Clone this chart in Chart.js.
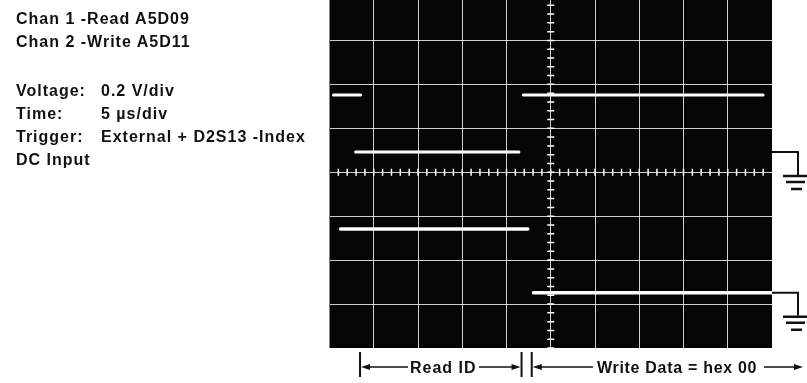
<!DOCTYPE html>
<html>
<head>
<meta charset="utf-8">
<script src="https://cdn.jsdelivr.net/npm/chart.js@4"></script>
<style>
body { margin:0; background:#fff; }
#wrap { position:relative; width:807px; height:383px; overflow:hidden; }
#scope { position:absolute; left:0; top:0; }
.t { position:absolute; font-family:"Liberation Sans", Arial, sans-serif; font-weight:bold; font-size:16px; line-height:23px; letter-spacing:1px; color:#111; white-space:nowrap; }
</style>
</head>
<body>
<div id="wrap">
<canvas id="scope" width="807" height="383"></canvas>
<div class="t" style="left:16px;top:7px">Chan 1 -Read A5D09</div>
<div class="t" style="left:16px;top:30px">Chan 2 -Write A5D11</div>
<div class="t" style="left:16px;top:79px">Voltage:</div>
<div class="t" style="left:101px;top:79px">0.2 V/div</div>
<div class="t" style="left:16px;top:102px">Time:</div>
<div class="t" style="left:101px;top:102px">5 &micro;s/div</div>
<div class="t" style="left:16px;top:125px">Trigger:</div>
<div class="t" style="left:101px;top:125px">External + D2S13 -Index</div>
<div class="t" style="left:16px;top:148px">DC Input</div>
<div class="t" style="left:410px;top:356px">Read ID</div>
<div class="t" style="left:597px;top:356px;letter-spacing:0.7px">Write Data = hex 00</div>
</div>
<script>
// trace segments, in screen divisions (x: 0..10, y: centre = 0)
var readStart = [0.09, 0.59, 4.38];
var readEnd   = [0.70, 4.28, 9.80];
var readLevel = [1.76, 0.46, 1.76];

var writeStart = [0.25, 4.61];
var writeEnd   = [4.48, 9.99];
var writeLevel = [-1.29, -2.74];

// ground reference markers, chan 1 and chan 2
var groundLevels = [0.46, -2.74];

var xGrid = [1,2,3,4,5,6,7,8,9];
var yGrid = [-3,-2,-1,0,1,2,3];

function segs(st, en, lv, w) {
	var out = [];
	for (var i = 0; i < st.length; i++) {
		out.push({
			data: [{x: st[i], y: lv[i]}, {x: en[i], y: lv[i]}],
			borderColor: '#fff',
			borderWidth: w,
			borderCapStyle: 'round',
			pointRadius: 0,
			showLine: true,
		});
	}
	return out;
}

var screenPlugin = {
	id: 'screen',
	beforeDraw: function(c) {
		var a = c.chartArea, ctx = c.ctx;
		ctx.save();
		ctx.fillStyle = '#050505';
		ctx.fillRect(a.left, a.top, a.right - a.left, a.bottom - a.top);
		ctx.restore();
	},
	afterDatasetsDraw: function(c) {
		// minor ticks on the centre cross, 5 per division
		var ctx = c.ctx, xs = c.scales.x, ys = c.scales.y;
		var x0 = xs.getPixelForValue(5), y0 = ys.getPixelForValue(0);
		ctx.save();
		ctx.strokeStyle = '#fff';
		ctx.lineWidth = 1.5;
		ctx.beginPath();
		for (var i = 1; i < 50; i++) {
			var px = xs.getPixelForValue(i / 5);
			ctx.moveTo(px, y0 - 3.5); ctx.lineTo(px, y0 + 3.5);
		}
		for (var j = -20; j < 20; j++) {
			var py = ys.getPixelForValue(j / 5);
			ctx.moveTo(x0 - 3.5, py); ctx.lineTo(x0 + 3.5, py);
		}
		ctx.stroke();
		ctx.restore();
	},
	afterDraw: function(c) {
		var ctx = c.ctx, a = c.chartArea, xs = c.scales.x, ys = c.scales.y;
		ctx.save();
		ctx.strokeStyle = '#111';
		ctx.fillStyle = '#111';
		ctx.lineWidth = 2;
		// ground symbols
		groundLevels.forEach(function(g) {
			var py = ys.getPixelForValue(g);
			var gx = a.right + 26;
			ctx.beginPath();
			ctx.moveTo(a.right, py); ctx.lineTo(gx, py); ctx.lineTo(gx, py + 23);
			ctx.stroke();
			ctx.lineWidth = 2.5;
			ctx.beginPath();
			ctx.moveTo(gx - 15, py + 24); ctx.lineTo(gx + 10, py + 24);
			ctx.moveTo(gx - 12, py + 30); ctx.lineTo(gx + 7, py + 30);
			ctx.moveTo(gx - 7, py + 37); ctx.lineTo(gx + 4, py + 37);
			ctx.stroke();
			ctx.lineWidth = 2;
		});
		// Read ID / Write Data brackets
		var by = 367;
		function bar(px) {
			ctx.beginPath(); ctx.moveTo(px, by - 15); ctx.lineTo(px, by + 10); ctx.stroke();
		}
		function arrow(from, to) {
			var d = to > from ? 1 : -1;
			ctx.lineWidth = 1.5;
			ctx.beginPath(); ctx.moveTo(from, by); ctx.lineTo(to - d * 6, by); ctx.stroke();
			ctx.beginPath(); ctx.moveTo(to, by); ctx.lineTo(to - d * 9, by - 3); ctx.lineTo(to - d * 9, by + 3); ctx.closePath(); ctx.fill();
			ctx.lineWidth = 2;
		}
		var r0 = xs.getPixelForValue(0.69), r1 = xs.getPixelForValue(4.34);
		var w0 = xs.getPixelForValue(4.57), w1 = xs.getPixelForValue(10.7);
		bar(r0); bar(r1); bar(w0);
		arrow(408, r0 + 1);
		arrow(479, r1 - 1);
		arrow(593, w0 + 1);
		arrow(764, w1);
		ctx.restore();
	}
};

var ctx = document.getElementById('scope');
var chart = new Chart(ctx, {
	type: 'scatter',
	data: {
		datasets: segs(readStart, readEnd, readLevel, 3).concat(segs(writeStart, writeEnd, writeLevel, 3.5))
	},
	options: {
		responsive: false,
		animation: false,
		layout: { autoPadding: false, padding: { left: 329.5, right: 35, top: 0, bottom: 35 } },
		plugins: { legend: { display: false }, tooltip: { enabled: false } },
		scales: {
			x: {
				type: 'linear', min: 0, max: 10,
				afterBuildTicks: function(s) { s.ticks = xGrid.map(function(v) { return {value: v}; }); },
				ticks: { display: false },
				border: { display: false },
				grid: { color: 'rgba(255,255,255,0.8)', lineWidth: 1, drawTicks: false }
			},
			y: {
				type: 'linear', min: -4, max: 3.92,
				afterBuildTicks: function(s) { s.ticks = yGrid.map(function(v) { return {value: v}; }); },
				ticks: { display: false },
				border: { display: false },
				grid: { color: 'rgba(255,255,255,0.8)', lineWidth: 1, drawTicks: false }
			}
		}
	},
	plugins: [screenPlugin]
});
</script>
</body>
</html>
